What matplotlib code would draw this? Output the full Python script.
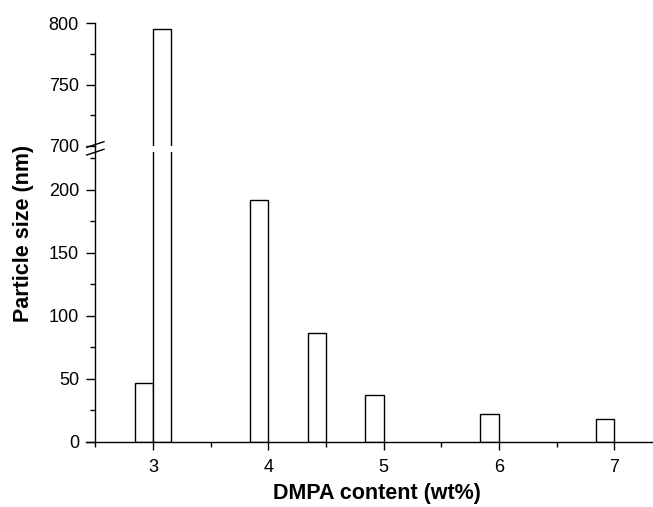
import numpy as np
import matplotlib
matplotlib.use("Agg")
import matplotlib.pyplot as plt
from matplotlib.lines import Line2D
from matplotlib.ticker import MultipleLocator

plt.rcParams['font.family'] = ['Liberation Sans', 'DejaVu Sans']

# data
dmpa = [3, 3, 4, 4.5, 5, 6, 7]
particle_size = [47, 795, 192, 86, 37, 22, 18]
x_ticks = [3, 4, 5, 6, 7]

bar_w = 0.16
# second bar sharing an x value goes to the right of the tick, others to the left
widths = []
seen = set()
for x in dmpa:
    widths.append(bar_w if x in seen else -bar_w)
    seen.add(x)

W, H = 653, 507
fig = plt.figure(figsize=(W / 100, H / 100), dpi=100)

def fx(px):
    return px / W

def fy(py):
    return (H - py) / H

left_px, right_px = 86, 653
ax_lo = fig.add_axes([fx(left_px), fy(441.7), fx(right_px - left_px), fy(152) - fy(441.7)])
ax_hi = fig.add_axes([fx(left_px), fy(146), fx(right_px - left_px), fy(23.3) - fy(146)])

px_per_unit = 115.3
x_at3 = 153
x0 = 3 - (x_at3 - left_px) / px_per_unit
x1 = 3 + (right_px - x_at3) / px_per_unit

for ax in (ax_lo, ax_hi):
    ax.bar(dmpa, particle_size, width=widths, align='edge', facecolor='white',
           edgecolor='black', linewidth=1.0, zorder=2)
    ax.set_xlim(x0, x1)
    ax.spines['top'].set_visible(False)
    ax.spines['right'].set_visible(False)
    ax.spines['left'].set_position(('data', 2.5))
    ax.spines['left'].set_linewidth(1.0)
    ax.spines['bottom'].set_linewidth(1.0)
    ax.yaxis.set_major_locator(MultipleLocator(50))
    ax.yaxis.set_minor_locator(MultipleLocator(25))
    ax.tick_params(axis='y', which='major', direction='out', length=6.3, width=1,
                   labelsize=13, pad=5.5)
    ax.tick_params(axis='y', which='minor', direction='out', length=3.6, width=1)
    ax.patch.set_visible(False)

ax_lo.set_ylim(0, 230)
ax_hi.set_ylim(700, 800)

ax_lo.set_xticks(x_ticks)
ax_lo.xaxis.set_minor_locator(MultipleLocator(0.5))
ax_lo.tick_params(axis='x', which='major', direction='out', length=5.8, width=1,
                  labelsize=13, pad=6.5)
ax_lo.tick_params(axis='x', which='minor', direction='out', length=3.6, width=1)

ax_hi.spines['bottom'].set_visible(False)
ax_hi.tick_params(axis='x', which='both', bottom=False, labelbottom=False)

# continuous spine through the gap and the break marks
xs = 95.4
fig.add_artist(Line2D([fx(xs), fx(xs)], [fy(152), fy(146)], color='black', lw=1.0))
fig.add_artist(Line2D([fx(86.7), fx(104)], [fy(147.3), fy(141.7)], color='black', lw=1.0))
fig.add_artist(Line2D([fx(86.7), fx(104)], [fy(155), fy(149.3)], color='black', lw=1.0))

fig.text(fx(24), fy(233), 'Particle size (nm)', rotation=90, ha='center', va='center',
         fontsize=15.5, fontweight='bold')
fig.text(fx(377), fy(494), 'DMPA content (wt%)', ha='center', va='center',
         fontsize=15.5, fontweight='bold')

fig.savefig('out.png', dpi=100)
